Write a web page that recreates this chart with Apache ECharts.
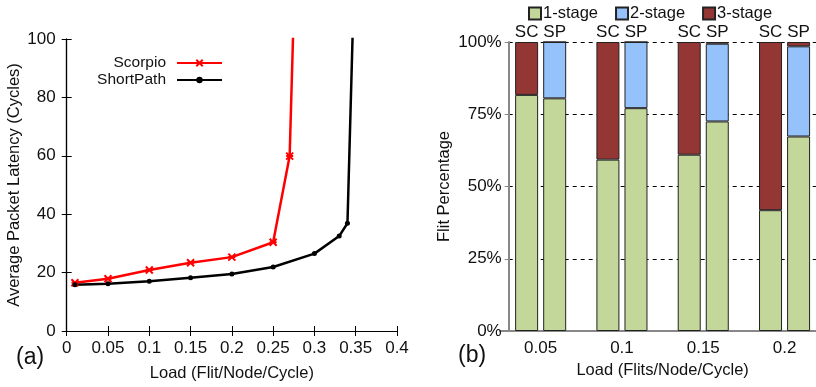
<!DOCTYPE html>
<html><head><meta charset="utf-8">
<script src="https://cdn.jsdelivr.net/npm/echarts@6/dist/echarts.min.js"></script>
<style>html,body{margin:0;padding:0;background:#fff}#c{width:816px;height:387px}</style>
</head><body><div id="c"></div>
<script>
// ---- Data: panel (a) latency vs load ----
const scorpioLoad = [0.01, 0.05, 0.10, 0.15, 0.20, 0.25, 0.27, 0.28];
const scorpioLatency = [16.5, 17.9, 20.9, 23.4, 25.3, 30.4, 59.9, 160];
const shortLoad = [0.01, 0.05, 0.10, 0.15, 0.20, 0.25, 0.30, 0.33, 0.34, 0.35];
const shortLatency = [15.8, 16.2, 17.0, 18.2, 19.5, 21.9, 26.5, 32.5, 36.9, 140];
// ---- Data: panel (b) flit percentage by stage ----
const loads = ['0.05', '0.1', '0.15', '0.2'];
const sc1 = [81.7, 59.3, 61.0, 41.8];
const sc3 = [18.3, 40.7, 39.0, 58.2];
const sp1 = [80.5, 77.1, 72.5, 67.3];
const sp2 = [19.5, 22.9, 26.9, 31.2];
const sp3 = [0.0, 0.0, 0.6, 1.5];
const stageNames = ['1-stage', '2-stage', '3-stage'];

const FONT = 'Liberation Sans, Arial, sans-serif';
const pair = (xs, ys) => xs.map((x, i) => [x, ys[i]]);
const chart = echarts.init(document.getElementById('c'), null, {renderer: 'canvas'});
const cGreen = '#c4d79b', cBlue = '#95c2fb', cRed = '#943634';
const barStyle = c => ({color: c, borderColor: '#222', borderWidth: 1});

function barSeries(name, stack, vals, color, label) {
  return {
    type: 'bar', name: name, stack: stack, xAxisIndex: 2, yAxisIndex: 2,
    barWidth: 23, barGap: '22%',
    data: vals,
    itemStyle: barStyle(color),
    label: label ? {show: true, position: 'top', distance: 1, formatter: label,
      fontFamily: FONT, fontSize: 17, color: '#111'} : {show: false},
    emphasis: {disabled: true}
  };
}

const option = {
  animation: false,
  textStyle: {fontFamily: FONT},
  grid: [
    {left: 66.7, top: 39, width: 330.3, height: 292, outerBoundsMode: 'none'},
    {left: 66.7, top: 39, width: 330.3, height: 292, outerBoundsMode: 'none'},
    {left: 500, top: 42, width: 325.2, height: 289, outerBoundsMode: 'none'},
    {left: 508.7, top: 42, width: 307.3, height: 289, outerBoundsMode: 'none'}
  ],
  legend: [
    {data: ['Scorpio'], right: 588, top: 50, orient: 'vertical', align: 'right',
     itemWidth: 45, itemHeight: 8, textStyle: {fontFamily: FONT, fontSize: 15.5, color: '#111', padding: [0, 6, 0, 0]}},
    {data: ['ShortPath'], right: 588, top: 67, orient: 'vertical', align: 'right',
     itemWidth: 45, itemHeight: 8, textStyle: {fontFamily: FONT, fontSize: 15.5, color: '#111', padding: [0, 6, 0, 0]}},
    {data: stageNames, left: 523, top: 0, itemWidth: 12, itemHeight: 12, itemGap: 17,
     icon: 'rect', textStyle: {fontFamily: FONT, fontSize: 16.5, color: '#111', padding: [0, 0, 0, -3]}}
  ],
  xAxis: [
    {type: 'value', gridIndex: 0, min: 0, max: 0.4, interval: 0.05,
     name: 'Load (Flit/Node/Cycle)', nameLocation: 'middle', nameGap: 34,
     nameTextStyle: {fontFamily: FONT, fontSize: 16.5, color: '#111'},
     axisLine: {lineStyle: {color: '#000', width: 1.2}},
     axisTick: {inside: true, length: 5, lineStyle: {color: '#000'}},
     axisLabel: {fontFamily: FONT, fontSize: 17, color: '#111', margin: 9, showMaxLabel: true},
     splitLine: {show: false}},
    {type: 'value', gridIndex: 1, position: 'top', min: 0, max: 0.4, interval: 0.05,
     axisLine: {lineStyle: {color: '#000', width: 1.2}},
     axisTick: {inside: true, length: 5, lineStyle: {color: '#000'}},
     axisLabel: {show: false}, splitLine: {show: false}},
    {type: 'category', gridIndex: 2, data: loads,
     name: 'Load (Flits/Node/Cycle)', nameLocation: 'middle', nameGap: 28,
     nameTextStyle: {fontFamily: FONT, fontSize: 16.5, color: '#111'},
     axisLine: {lineStyle: {color: '#888', width: 2}},
     axisTick: {show: false},
     axisLabel: {fontFamily: FONT, fontSize: 17, color: '#111', margin: 9},
     splitLine: {show: false}},
    {type: 'value', gridIndex: 3, min: 0, max: 1, show: false}
  ],
  yAxis: [
    {type: 'value', gridIndex: 0, min: 0, max: 100, interval: 20,
     name: 'Average Packet Latency (Cycles)', nameLocation: 'middle', nameGap: 33,
     nameTextStyle: {fontFamily: FONT, fontSize: 16.5, color: '#111'},
     axisLine: {show: true, lineStyle: {color: '#000', width: 1.2}},
     axisTick: {show: true, inside: true, length: 5, lineStyle: {color: '#000'}},
     axisLabel: {fontFamily: FONT, fontSize: 17, color: '#111', margin: 11},
     splitLine: {show: false}},
    {type: 'value', gridIndex: 1, position: 'right', min: 0, max: 100, interval: 20,
     axisLine: {show: true, lineStyle: {color: '#000', width: 1.2}},
     axisTick: {show: true, inside: true, length: 5, lineStyle: {color: '#000'}},
     axisLabel: {show: false}, splitLine: {show: false}},
    {type: 'value', gridIndex: 2, min: 0, max: 100, show: false},
    {type: 'value', gridIndex: 3, min: 0, max: 100, interval: 25,
     name: 'Flit Percentage', nameLocation: 'middle', nameGap: 56,
     nameTextStyle: {fontFamily: FONT, fontSize: 16.5, color: '#111'},
     axisLine: {show: true, lineStyle: {color: '#888', width: 2}},
     axisTick: {show: true, length: 4, lineStyle: {color: '#888'}},
     axisLabel: {formatter: '{value}%', fontFamily: FONT, fontSize: 17, color: '#111', margin: 7},
     splitLine: {show: true, lineStyle: {color: '#000', type: [4, 4], width: 1}}}
  ],
  series: [
    {type: 'line', name: 'Scorpio', xAxisIndex: 0, yAxisIndex: 0,
     data: pair(scorpioLoad, scorpioLatency),
     lineStyle: {color: '#ff0000', width: 2.5},
     symbol: 'path://M0,0L10,10M10,0L0,10M0,5L10,5', symbolSize: 7,
     itemStyle: {color: '#ff0000', borderColor: '#ff0000', borderWidth: 2},
     emphasis: {disabled: true}},
    {type: 'line', name: 'ShortPath', xAxisIndex: 0, yAxisIndex: 0,
     data: pair(shortLoad, shortLatency),
     lineStyle: {color: '#000', width: 2.5},
     symbol: 'circle', symbolSize: 5,
     itemStyle: {color: '#000'},
     emphasis: {disabled: true}},
    barSeries('1-stage', 'SC', sc1, cGreen, null),
    barSeries('3-stage', 'SC', sc3, cRed, 'SC'),
    barSeries('1-stage', 'SP', sp1, cGreen, null),
    barSeries('2-stage', 'SP', sp2, cBlue, null),
    barSeries('3-stage', 'SP', sp3, cRed, 'SP')
  ],
  graphic: [
    {type: 'text', left: 16, top: 346, style: {text: '(a)', font: '23px ' + FONT, fill: '#111'}},
    {type: 'text', left: 458, top: 344, style: {text: '(b)', font: '23px ' + FONT, fill: '#111'}}
  ]
};
chart.setOption(option);
</script></body></html>
